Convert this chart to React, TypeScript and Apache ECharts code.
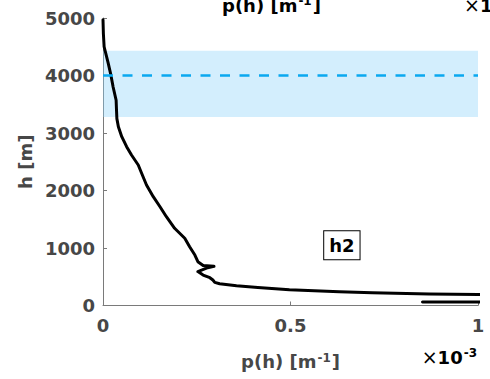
import React, { useEffect, useRef } from "react";
import * as echarts from "echarts";

// profile p(h) in units of 1e-3 m^-1 versus height h [m]
const pValues = [0, 0.001, 0.003, 0.014, 0.021, 0.027, 0.035, 0.036, 0.037, 0.041, 0.05, 0.063, 0.076, 0.094, 0.103, 0.116, 0.134, 0.152, 0.169, 0.191, 0.218, 0.231, 0.245, 0.253, 0.267, 0.296, 0.276, 0.253, 0.267, 0.285, 0.293, 0.298, 0.311, 0.356, 0.413, 0.497, 0.63, 0.718, 0.87, 1.0, 3.0, 0.852, 3.0];
const hValues = [4970, 4730, 4500, 4210, 4010, 3800, 3570, 3400, 3250, 3110, 2936, 2762, 2617, 2443, 2299, 2096, 1892, 1718, 1544, 1343, 1169, 1023, 878, 762, 695, 682, 650, 590, 530, 483, 443, 403, 379, 344, 315, 272, 240, 220, 200, 191, 150, 60, 52];

const bandRange = [3280, 4430];
const dashedLevel = 4000;
const annotation = { text: "h2", p: 0.637, h: 1047 };

const xTicks = [0, 0.5, 1];
const yTicks = [0, 1000, 2000, 3000, 4000, 5000];

const FONT = "DejaVu Sans";
const LABEL_COLOR = "#474747";
const AXIS_COLOR = "#7a7a7a";

const supRich = {
  a: { fontFamily: FONT, fontWeight: "bold", fontSize: 18, color: LABEL_COLOR },
  s: { fontFamily: FONT, fontWeight: "bold", fontSize: 12, color: LABEL_COLOR, verticalAlign: "top", padding: [0, 1, 8, 1] },
  x: { fontFamily: FONT, fontSize: 19, color: LABEL_COLOR },
};

export default function App() {
  const ref = useRef<HTMLDivElement>(null);
  useEffect(() => {
    if (!ref.current) return;
    const chart = echarts.init(ref.current, null, { renderer: "svg" });
    const data = pValues.map((p, i) => [p, hValues[i]]);
    chart.setOption({
      animation: false,
      grid: { left: 103, right: 12, top: 18, bottom: 73.5, containLabel: false },
      xAxis: {
        type: "value",
        min: xTicks[0],
        max: xTicks[xTicks.length - 1],
        interval: 0.5,
        splitLine: { show: false },
        axisLine: { show: true, lineStyle: { color: AXIS_COLOR, width: 1 } },
        axisTick: { show: true, inside: true, length: 4, lineStyle: { color: AXIS_COLOR } },
        axisLabel: {
          margin: 11,
          fontFamily: FONT,
          fontWeight: "bold",
          fontSize: 18,
          color: LABEL_COLOR,
          formatter: (v: number) => String(v),
        },
        name: "{a|p(h) [m}{s|-1}{a|]}",
        nameLocation: "middle",
        nameGap: 46,
        nameTextStyle: { rich: supRich },
      },
      yAxis: {
        type: "value",
        min: yTicks[0],
        max: yTicks[yTicks.length - 1],
        interval: 1000,
        splitLine: { show: false },
        axisLine: { show: true, lineStyle: { color: AXIS_COLOR, width: 1 } },
        axisTick: { show: true, inside: true, length: 4, lineStyle: { color: AXIS_COLOR } },
        axisLabel: {
          margin: 8,
          fontFamily: FONT,
          fontWeight: "bold",
          fontSize: 18,
          color: LABEL_COLOR,
          formatter: (v: number) => String(v),
        },
        name: "h [m]",
        nameLocation: "middle",
        nameGap: 59,
        nameTextStyle: { fontFamily: FONT, fontWeight: "bold", fontSize: 18, color: LABEL_COLOR },
      },
      series: [
        {
          type: "line",
          data,
          showSymbol: false,
          symbol: "none",
          clip: true,
          z: 2,
          lineStyle: { color: "#000", width: 3, join: "round", cap: "round" },
          markPoint: {
            symbol: "rect",
            symbolSize: 0,
            data: [{ coord: [annotation.p, annotation.h], value: annotation.text }],
            label: {
              show: true,
              position: "inside",
              formatter: annotation.text,
              fontFamily: FONT,
              fontWeight: "bold",
              fontSize: 18,
              color: "#000",
              backgroundColor: "#fff",
              borderColor: "#000",
              borderWidth: 1,
              padding: [5, 5, 4, 5],
              lineHeight: 19,
            },
          },
        },
        {
          type: "line",
          data: [],
          z: 3,
          markArea: {
            silent: true,
            itemStyle: { color: "rgba(140,210,250,0.38)" },
            data: [[{ yAxis: bandRange[0] }, { yAxis: bandRange[1] }]],
          },
          markLine: {
            silent: true,
            symbol: "none",
            label: { show: false },
            lineStyle: { color: "#0aa8ef", width: 2.5, type: [10, 9.5] },
            data: [{ yAxis: dashedLevel }],
          },
        },
      ],
      graphic: [
        {
          type: "text",
          x: 478,
          y: 357,
          z: 10,
          style: {
            text: "{x|×}{a|10}{s|-3}",
            align: "right",
            verticalAlign: "middle",
            rich: supRich,
          },
        },
        {
          type: "text",
          x: 222,
          y: 5,
          z: 10,
          style: {
            text: "{a|p(h) [m}{s|-1}{a|]}",
            align: "left",
            verticalAlign: "middle",
            rich: supRich,
          },
        },
        {
          type: "text",
          x: 464,
          y: 5,
          z: 10,
          style: {
            text: "{x|×}{a|10}{s|-3}",
            align: "left",
            verticalAlign: "middle",
            rich: supRich,
          },
        },
      ],
    });
    return () => chart.dispose();
  }, []);
  return <div ref={ref} style={{ width: 490, height: 379, position: "absolute", left: 0, top: 0 }} />;
}
